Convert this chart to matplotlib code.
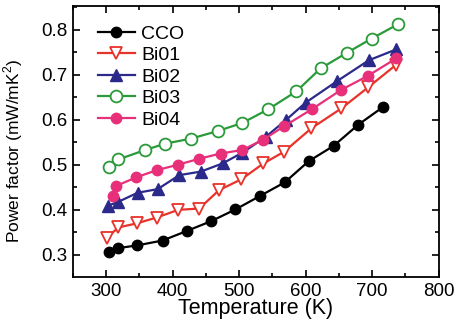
import matplotlib
matplotlib.use("Agg")
import matplotlib.pyplot as plt
from matplotlib.ticker import MultipleLocator

plt.rcParams['font.family'] = ['Liberation Sans', 'DejaVu Sans']
plt.rcParams['font.size'] = 13.5
plt.rcParams['mathtext.fontset'] = 'custom'
plt.rcParams['mathtext.rm'] = 'Liberation Sans'

t_cco = [304, 317.5, 346, 385, 421, 458, 494.5, 531.5, 568.5, 604.5, 642, 679, 716]
pf_cco = [0.306, 0.315, 0.321, 0.332, 0.353, 0.375, 0.401, 0.431, 0.461, 0.508, 0.542, 0.589, 0.628]

t_bi01 = [301, 318.5, 346, 376, 408.5, 440, 470, 503.5, 536.5, 567.5, 608.5, 653.5, 694, 736]
pf_bi01 = [0.338, 0.361, 0.370, 0.383, 0.400, 0.403, 0.444, 0.468, 0.503, 0.529, 0.581, 0.625, 0.672, 0.722]

t_bi02 = [302.5, 318.5, 347.5, 377.5, 410, 442.5, 475, 505, 540, 570, 600, 647.5, 695, 736]
pf_bi02 = [0.409, 0.418, 0.438, 0.446, 0.477, 0.485, 0.503, 0.527, 0.562, 0.599, 0.638, 0.686, 0.732, 0.756]

t_bi03 = [304, 318.5, 359, 389, 427.5, 468, 505, 543.5, 586, 622.5, 662.5, 699, 739]
pf_bi03 = [0.496, 0.512, 0.533, 0.547, 0.558, 0.575, 0.593, 0.623, 0.663, 0.714, 0.749, 0.780, 0.812]

t_bi04 = [310, 315, 345, 376, 407.5, 439, 472, 505, 536.5, 568, 610, 653, 693, 736]
pf_bi04 = [0.431, 0.453, 0.472, 0.488, 0.500, 0.513, 0.525, 0.533, 0.556, 0.586, 0.624, 0.666, 0.697, 0.736]

fig = plt.figure(figsize=(4.58, 3.24), dpi=100)
ax = fig.add_axes([0.159, 0.145, 0.799, 0.836])

ax.plot(t_cco, pf_cco, '-o', color='black', mfc='black', ms=7.5, lw=1.6, label='CCO')
ax.plot(t_bi01, pf_bi01, '-v', color='#e8322a', mfc='white', ms=8.5, lw=1.6, mew=1.3, label='Bi01')
ax.plot(t_bi02, pf_bi02, '-^', color='#2b2a8a', mfc='#2b2a8a', ms=8.5, lw=1.6, label='Bi02')
ax.plot(t_bi03, pf_bi03, '-o', color='#2a9a3a', mfc='white', ms=8.5, lw=1.6, mew=1.3, label='Bi03')
ax.plot(t_bi04, pf_bi04, '-o', color='#e8307a', mfc='#e8307a', ms=7.5, lw=1.6, label='Bi04')

ax.set_xlim(250, 800)
ax.set_ylim(0.251, 0.852)
ax.xaxis.set_major_locator(MultipleLocator(100))
ax.xaxis.set_minor_locator(MultipleLocator(50))
ax.yaxis.set_major_locator(MultipleLocator(0.1))
ax.yaxis.set_minor_locator(MultipleLocator(0.05))
ax.tick_params(which='both', direction='in', top=True, right=True, width=1.2)
ax.tick_params(which='major', length=5, pad=4)
ax.tick_params(which='minor', length=3)
for s in ax.spines.values():
    s.set_linewidth(1.3)

ax.set_xlabel('Temperature (K)', fontsize=15.5, labelpad=-1)
ax.set_ylabel('Power factor (mW/mK$^2$)', fontsize=12.5)
ax.yaxis.set_label_coords(-0.13, 0.465)

ax.legend(loc='upper left', frameon=False, fontsize=14, handlelength=1.9, handletextpad=0.35,
          labelspacing=0.2, borderaxespad=0, borderpad=0, bbox_to_anchor=(0.068, 0.93))

fig.savefig('out.png', dpi=100)
